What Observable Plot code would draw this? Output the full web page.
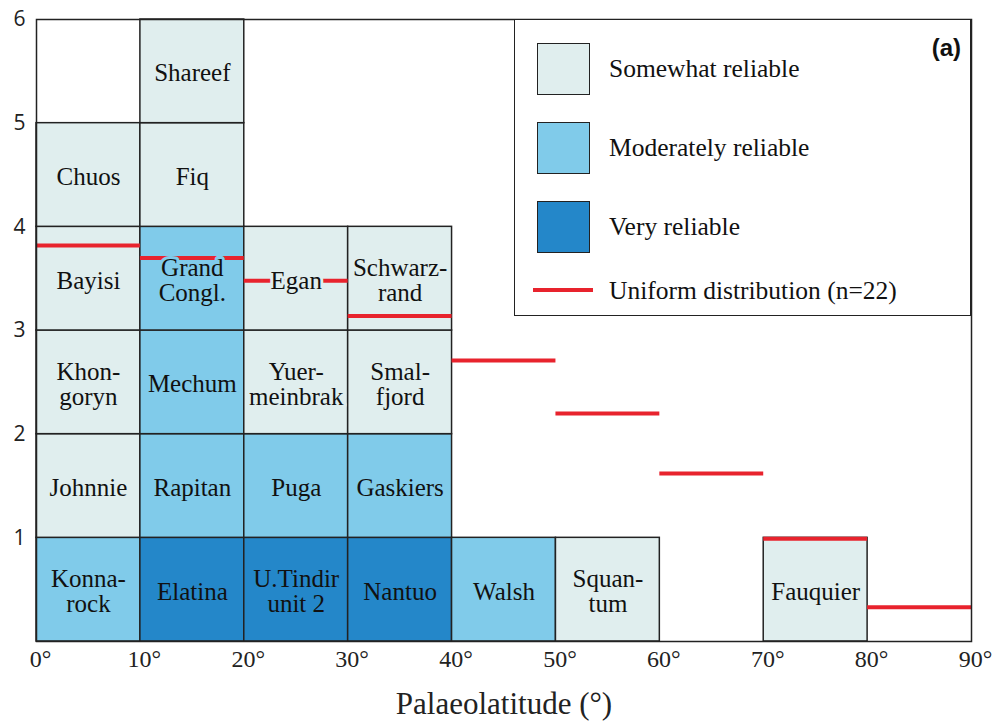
<!DOCTYPE html>
<html>
<head>
<meta charset="utf-8">
<script src="https://cdn.jsdelivr.net/npm/d3@7"></script>
<script src="https://cdn.jsdelivr.net/npm/@observablehq/plot@0.6"></script>
<style>
  html, body { margin: 0; padding: 0; background: #fff; }
  #wrap { position: relative; width: 992px; height: 725px; }
  #legend { position: absolute; left: 514px; top: 19px; width: 457px; height: 297px;
            box-sizing: border-box; border: 1.5px solid #222; background: #fff;
            font-family: "Liberation Serif", "Times New Roman", serif; font-size: 25.5px; color: #111; }
  #legend .sw { position: absolute; left: 22px; width: 53px; height: 52px; box-sizing: border-box; border: 1.5px solid #222; }
  #legend .lab { position: absolute; left: 94px; line-height: 1; transform: translateY(-50%); white-space: nowrap; }
  #legend .line { position: absolute; left: 18px; width: 60px; height: 4px; background: #e8232d; }
  #legend .tag { position: absolute; right: 9px; top: 14px; font-family: "Liberation Sans", Arial, sans-serif; font-weight: bold; font-size: 24px; }
</style>
</head>
<body>
<div id="wrap"></div>
<script>
// ---- data ----
const siteNames = ["Konna-\nrock", "Johnnie", "Khon-\ngoryn", "Bayisi", "Chuos",
  "Elatina", "Rapitan", "Mechum", "Grand\nCongl.", "Fiq", "Shareef",
  "U.Tindir\nunit 2", "Puga", "Yuer-\nmeinbrak", "Egan",
  "Nantuo", "Gaskiers", "Smal-\nfjord", "Schwarz-\nrand",
  "Walsh", "Squan-\ntum", "Fauquier"];
const siteLatBin = [0, 0, 0, 0, 0,
  10, 10, 10, 10, 10, 10,
  20, 20, 20, 20,
  30, 30, 30, 30,
  40, 50, 70];
const siteReliability = ["Moderately reliable", "Somewhat reliable", "Somewhat reliable", "Somewhat reliable", "Somewhat reliable",
  "Very reliable", "Moderately reliable", "Moderately reliable", "Moderately reliable", "Somewhat reliable", "Somewhat reliable",
  "Very reliable", "Moderately reliable", "Somewhat reliable", "Somewhat reliable",
  "Very reliable", "Moderately reliable", "Somewhat reliable", "Somewhat reliable",
  "Moderately reliable", "Somewhat reliable", "Somewhat reliable"];
const reliabilityClasses = ["Somewhat reliable", "Moderately reliable", "Very reliable"];
const reliabilityColors = ["#e0eeee", "#80cbea", "#2487c9"];
const uniformBinStart = [0, 10, 20, 30, 40, 50, 60, 70, 80];
const uniformCounts = [3.82, 3.70, 3.48, 3.14, 2.71, 2.20, 1.62, 0.99, 0.33];
const uniformLabel = "Uniform distribution (n=22)";
const binWidth = 10;
const xTicks = [0, 10, 20, 30, 40, 50, 60, 70, 80, 90];
const yTicks = [1, 2, 3, 4, 5, 6];
const xTitle = "Palaeolatitude (°)";
const panelTag = "(a)";

// ---- build tables ----
const counter = new Map();
const cells = siteNames.map((name, i) => {
  const b = siteLatBin[i];
  const lvl = counter.get(b) || 0;
  counter.set(b, lvl + 1);
  return {name, x1: b, x2: b + binWidth, y1: lvl, y2: lvl + 1, rel: siteReliability[i]};
});
const uniform = uniformBinStart.map((b, i) => ({x1: b, x2: b + binWidth, y: uniformCounts[i]}));

const serif = "Liberation Serif, Times New Roman, serif";

const chart = Plot.plot({
  width: 992, height: 725,
  marginTop: 19, marginRight: 21, marginBottom: 84, marginLeft: 36,
  x: {domain: [0, 90]},
  y: {domain: [0, 6]},
  color: {domain: reliabilityClasses, range: reliabilityColors},
  marks: [
    Plot.rect(cells, {x1: "x1", x2: "x2", y1: "y1", y2: "y2", fill: "rel", stroke: "#222", strokeWidth: 1.5}),
    Plot.ruleY(uniform, {x1: "x1", x2: "x2", y: "y", stroke: "#e8232d", strokeWidth: 4}),
    Plot.text(cells, {x: d => (d.x1 + d.x2) / 2, y: d => (d.y1 + d.y2) / 2, text: "name",
      fill: "#111", stroke: "rel", strokeWidth: 6, lineHeight: 1.0, dy: 2,
      fontFamily: serif, fontSize: 25}),
    Plot.frame({stroke: "#222", strokeWidth: 1.5}),
    Plot.axisX({ticks: xTicks, tickFormat: d => d + "°", tickSize: 0, tickPadding: 8, dx: 4,
      fontFamily: serif, fontSize: 24, label: null, fill: "#222"}),
    Plot.axisY({ticks: yTicks, tickFormat: d => String(d), tickSize: 0, tickPadding: 11, fontFamily: "Open Sans, sans-serif",
      fontSize: 21, label: null, fill: "#222"}),
    Plot.text([xTitle], {frameAnchor: "bottom", dy: 72, text: d => d, fontFamily: serif, fontSize: 31, fill: "#222"})
  ]
});
const wrap = document.getElementById("wrap");
wrap.appendChild(chart);

// ---- legend (HTML overlay) ----
const legend = document.createElement("div");
legend.id = "legend";
const swatchTops = [23, 102, 181];
reliabilityClasses.forEach((c, i) => {
  const sw = document.createElement("div");
  sw.className = "sw";
  sw.style.top = swatchTops[i] + "px";
  sw.style.background = reliabilityColors[i];
  legend.appendChild(sw);
  const lab = document.createElement("div");
  lab.className = "lab";
  lab.style.top = (swatchTops[i] + 26) + "px";
  lab.textContent = c;
  legend.appendChild(lab);
});
const ln = document.createElement("div");
ln.className = "line";
ln.style.top = "268px";
legend.appendChild(ln);
const ll = document.createElement("div");
ll.className = "lab";
ll.style.top = "271px";
ll.textContent = uniformLabel;
legend.appendChild(ll);
const tag = document.createElement("div");
tag.className = "tag";
tag.textContent = panelTag;
legend.appendChild(tag);
wrap.appendChild(legend);
</script>
</body>
</html>
